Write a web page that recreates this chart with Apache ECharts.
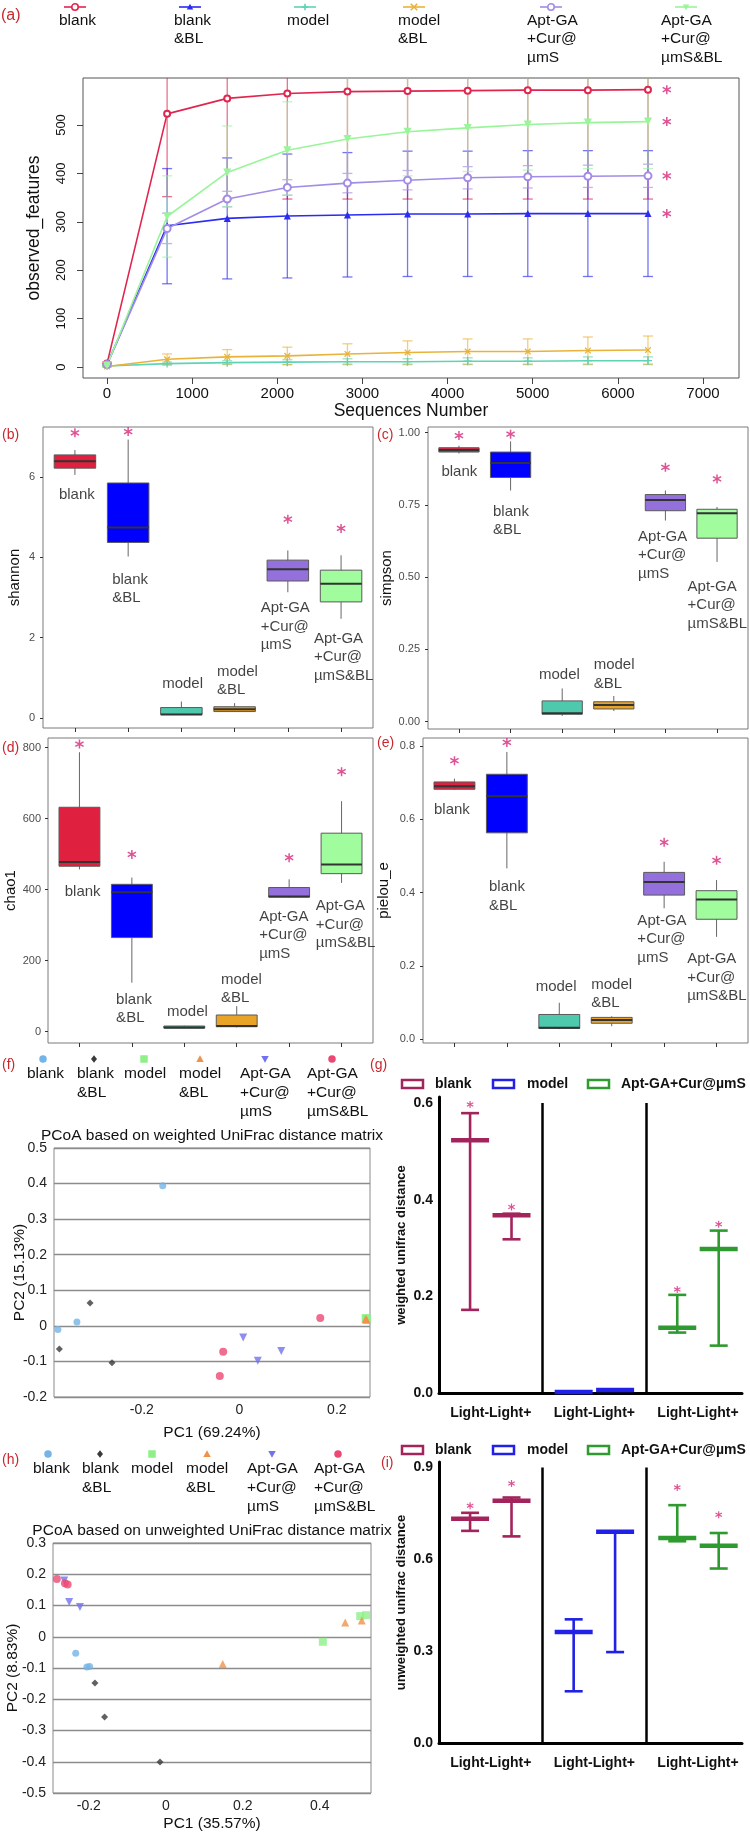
<!DOCTYPE html>
<html>
<head>
<meta charset="utf-8">
<title>diversity panels</title>
<script src="https://cdn.jsdelivr.net/npm/echarts@6.0.0/dist/echarts.min.js"></script>
<style>
  html, body { margin: 0; padding: 0; background: #fff; }
  #main { width: 750px; height: 1835px; }
</style>
</head>
<body>
<div id="main"></div>
<script>
// ---------------- data ----------------
var groupNames = ['blank', 'blank\n&BL', 'model', 'model\n&BL', 'Apt-GA\n+Cur@\nµmS', 'Apt-GA\n+Cur@\nµmS&BL'];

// (a) rarefaction curves, observed_features (mean, lower / upper error)
var seqDepth    = [0, 706, 1412, 2118, 2824, 3530, 4236, 4942, 5648, 6354];
var blankMean   = [7, 523, 555, 565, 569, 570, 571, 572, 572, 573];
var blankLow    = [4, 352, 347, 347, 347, 347, 347, 347, 347, 347];
var blankHigh   = [10, 694, 763, 783, 791, 793, 795, 797, 797, 799];
var blankBLMean = [5, 292, 307, 312, 314, 316, 316, 317, 317, 317];
var blankBLLow  = [3, 172, 182, 184, 186, 187, 187, 187, 187, 187];
var blankBLHigh = [7, 410, 432, 440, 443, 446, 446, 447, 447, 447];
var modelMean   = [2, 7, 9, 10, 11, 11, 12, 12, 13, 13];
var modelLow    = [1, 4, 5, 5, 5, 5, 5, 5, 5, 5];
var modelHigh   = [3, 10, 13, 15, 17, 17, 19, 19, 21, 21];
var modelBLMean = [1, 16, 21, 23, 27, 30, 32, 32, 34, 35];
var modelBLLow  = [0, 5, 6, 5, 6, 6, 6, 6, 6, 6];
var modelBLHigh = [2, 27, 36, 41, 48, 54, 58, 58, 62, 64];
var aptMean     = [5, 286, 347, 371, 380, 386, 391, 393, 394, 395];
var aptLow      = [3, 255, 331, 355, 360, 366, 368, 370, 371, 371];
var aptHigh     = [7, 318, 363, 387, 400, 406, 414, 416, 417, 419];
var aptBLMean   = [3, 311, 402, 448, 471, 486, 494, 501, 505, 507];
var aptBLLow    = [1, 227, 331, 355, 380, 395, 404, 407, 410, 410];
var aptBLHigh   = [5, 395, 498, 548, 600, 615, 620, 620, 620, 620];
var rareStars   = [573, 317, null, null, 395, 507];

// (b)-(e) box stats per group: [min, q1, median, q3, max]
var shannonBox = [[6.05, 6.22, 6.39, 6.55, 6.67], [4.02, 4.37, 4.74, 5.85, 6.93], [0.09, 0.09, 0.09, 0.26, 0.41],
                  [0.15, 0.16, 0.22, 0.28, 0.37], [3.13, 3.41, 3.70, 3.93, 4.17], [2.47, 2.89, 3.34, 3.68, 4.05]];
var shannonStars = [7.1, 7.13, null, null, 4.95, 4.72];
var simpsonBox = [[0.928, 0.933, 0.94, 0.948, 0.955], [0.80, 0.845, 0.895, 0.933, 0.97], [0.02, 0.026, 0.029, 0.072, 0.115],
                  [0.037, 0.044, 0.058, 0.069, 0.089], [0.696, 0.73, 0.767, 0.786, 0.80], [0.553, 0.635, 0.721, 0.735, 0.743]];
var simpsonStars = [0.99, 0.995, null, null, 0.88, 0.84];
var chao1Box = [[457, 466, 478, 632, 787], [138, 265, 393, 415, 434], [10, 10, 12, 16, 17],
                [12, 14, 16, 47, 72], [378, 379, 381, 406, 429], [419, 445, 471, 559, 649]];
var chao1Stars = [810, 499, null, null, 490, 732];
var pielouBox = [[0.68, 0.682, 0.69, 0.702, 0.711], [0.466, 0.563, 0.663, 0.723, 0.784], [0.027, 0.029, 0.031, 0.067, 0.099],
                 [0.035, 0.043, 0.052, 0.059, 0.062], [0.357, 0.393, 0.429, 0.455, 0.484], [0.279, 0.327, 0.381, 0.405, 0.434]];
var pielouStars = [0.76, 0.81, null, null, 0.537, 0.488];

// (f) PCoA weighted UniFrac, [PC1, PC2]
var wBlank   = [[-0.372, -0.01], [-0.333, 0.011], [-0.157, 0.394]];
var wBlankBL = [[-0.306, 0.064], [-0.369, -0.065], [-0.261, -0.104]];
var wModel   = [[0.26, 0.021], [0.262, 0.02], [0.259, 0.022]];
var wModelBL = [[0.26, 0.018], [0.261, 0.017], [0.259, 0.019]];
var wApt     = [[0.008, -0.033], [0.038, -0.098], [0.086, -0.071]];
var wAptBL   = [[0.166, 0.022], [-0.033, -0.073], [-0.04, -0.141]];

// (h) PCoA unweighted UniFrac, [PC1, PC2]
var uBlank   = [[-0.234, -0.053], [-0.205, -0.097], [-0.198, -0.095]];
var uBlankBL = [[-0.184, -0.148], [-0.159, -0.257], [-0.015, -0.401]];
var uModel   = [[0.408, -0.016], [0.505, 0.066], [0.52, 0.069]];
var uModelBL = [[0.148, -0.087], [0.466, 0.046], [0.509, 0.052]];
var uApt     = [[-0.264, 0.18], [-0.251, 0.111], [-0.223, 0.095]];
var uAptBL   = [[-0.283, 0.185], [-0.262, 0.171], [-0.255, 0.167]];

// (g) (i) UniFrac distance Light-/Light+ per group (blank, model, Apt-GA+Cur@µmS)
var pairGroups = ['blank', 'model', 'Apt-GA+Cur@µmS'];
var pairLabel = 'Light-Light+';
var weightedMean  = [0.523, 0.368, 0.002, 0.006, 0.135, 0.298];
var weightedLow   = [0.172, 0.318, 0.002, 0.006, 0.125, 0.098];
var weightedHigh  = [0.579, 0.371, 0.002, 0.006, 0.203, 0.336];
var weightedStars = [0.597, 0.385, null, null, 0.214, 0.349];
var unweightedMean  = [0.733, 0.791, 0.363, 0.69, 0.67, 0.644];
var unweightedLow   = [0.693, 0.675, 0.169, 0.297, 0.659, 0.57];
var unweightedHigh  = [0.752, 0.802, 0.404, 0.69, 0.777, 0.686];
var unweightedStars = [0.775, 0.848, null, null, 0.835, 0.746];

// ---------------- styling ----------------
var FONT = '"Liberation Sans", Arial, Helvetica, sans-serif';
var TAG = '#c8282d';
var STAR = '#d6287a';
var ASTERISK = 'path://M4.2,0H5.8V10H4.2Z M0.27,3.19L1.07,1.81L9.73,6.81L8.93,8.19Z M0.27,6.81L8.93,1.81L9.73,3.19L1.07,8.19Z';
var PLUS = 'path://M4.2,0H5.8V4.2H10V5.8H5.8V10H4.2V5.8H0V4.2H4.2Z';

var rareColors = ['#e0264e', '#2b2bf2', '#5fd3b5', '#e9b33a', '#a28ce6', '#98f598'];
var boxColors = ['#e0203f', '#0000ff', '#4fc9ad', '#e9a326', '#9370db', '#a0fc9c'];
var pcoaColors = ['#74b4e6', '#3a3a3a', '#8ff08a', '#f0924a', '#7272ee', '#ec4874'];
var pairColors = ['#a3245c', '#2020e6', '#2f9a2f'];

var chart = echarts.init(document.getElementById('main'));

var grids = [], xAxes = [], yAxes = [], series = [], graphics = [];
var labelGrids = [];

function addGrid(g) {
  grids.push(Object.assign({containLabel: false, outerBoundsMode: 'none'}, g));
  return grids.length - 1;
}

function addText(x, y, text, size, opts) {
  opts = opts || {};
  graphics.push({
    type: 'text', x: x, y: y, silent: true, rotation: opts.rotation || 0,
    style: {
      text: text, fill: opts.color || '#111',
      font: (opts.bold ? 'bold ' : '') + size + 'px ' + FONT,
      lineHeight: opts.lineHeight || Math.round(size * 1.2),
      align: opts.align || 'left', textAlign: opts.align || 'left',
      verticalAlign: opts.valign || 'top', textVerticalAlign: opts.valign || 'top'
    }
  });
}

function markShape(kind, x, y, s, color) {
  var h = s / 2;
  if (kind === 'circle') return {type: 'circle', shape: {cx: x, cy: y, r: h}, style: {fill: color}};
  if (kind === 'ring') return {type: 'circle', shape: {cx: x, cy: y, r: h}, style: {fill: '#fff', stroke: color, lineWidth: 1.6}};
  if (kind === 'square') return {type: 'rect', shape: {x: x - h, y: y - h, width: s, height: s}, style: {fill: color}};
  if (kind === 'diamond') return {type: 'polygon', shape: {points: [[x, y - h], [x + h * 0.8, y], [x, y + h], [x - h * 0.8, y]]}, style: {fill: color}};
  if (kind === 'tri') return {type: 'polygon', shape: {points: [[x, y - h], [x + h, y + h * 0.8], [x - h, y + h * 0.8]]}, style: {fill: color}};
  if (kind === 'tridown') return {type: 'polygon', shape: {points: [[x - h, y - h * 0.8], [x + h, y - h * 0.8], [x, y + h]]}, style: {fill: color}};
  if (kind === 'plus') return {type: 'group', children: [
    {type: 'line', shape: {x1: x - h, y1: y, x2: x + h, y2: y}, style: {stroke: color, lineWidth: 1.6}},
    {type: 'line', shape: {x1: x, y1: y - h, x2: x, y2: y + h}, style: {stroke: color, lineWidth: 1.6}}]};
  return {type: 'group', children: [
    {type: 'line', shape: {x1: x - h, y1: y - h, x2: x + h, y2: y + h}, style: {stroke: color, lineWidth: 1.6}},
    {type: 'line', shape: {x1: x - h, y1: y + h, x2: x + h, y2: y - h}, style: {stroke: color, lineWidth: 1.6}}]};
}

function f0(v) { return String(Math.round(v)); }
function f1(v) { return v.toFixed(1); }
function f2(v) { return v.toFixed(2); }
function fz(v) { return Math.abs(v) < 1e-9 ? '0' : v.toFixed(1); }

// ---------------- (a) rarefaction ----------------
var gA = addGrid({left: 83, top: 78, width: 656, height: 300, show: true, borderColor: '#555', borderWidth: 1});
xAxes.push({
  gridIndex: gA, type: 'value', min: -282, max: 7423,
  axisLine: {show: false, onZero: false}, splitLine: {show: false},
  axisTick: {show: true, length: 6, lineStyle: {color: '#444'}, customValues: [0, 1000, 2000, 3000, 4000, 5000, 6000, 7000]},
  axisLabel: {customValues: [0, 1000, 2000, 3000, 4000, 5000, 6000, 7000], formatter: f0, fontSize: 15, color: '#111', margin: 8},
  name: 'Sequences Number', nameLocation: 'middle', nameGap: 22, nameTextStyle: {fontSize: 17.5, color: '#111'}
});
yAxes.push({
  gridIndex: gA, type: 'value', min: -22.7, max: 597.1,
  axisLine: {show: false, onZero: false}, splitLine: {show: false},
  axisTick: {show: true, length: 6, lineStyle: {color: '#444'}, customValues: [0, 100, 200, 300, 400, 500]},
  axisLabel: {customValues: [0, 100, 200, 300, 400, 500], formatter: f0, rotate: 90, fontSize: 13, color: '#111', margin: 15},
  name: 'observed_features', nameLocation: 'middle', nameGap: 40, nameTextStyle: {fontSize: 17.5, color: '#111'}
});

var rareSets = [
  [blankMean, blankLow, blankHigh, 'emptyCircle', 6, 0],
  [blankBLMean, blankBLLow, blankBLHigh, 'triangle', 7, 0],
  [modelMean, modelLow, modelHigh, PLUS, 8, 0],
  [modelBLMean, modelBLLow, modelBLHigh, PLUS, 8, 45],
  [aptMean, aptLow, aptHigh, 'emptyCircle', 7, 0],
  [aptBLMean, aptBLLow, aptBLHigh, 'triangle', 8, 180]
];
rareSets.forEach(function (set, k) {
  var color = rareColors[k];
  series.push({
    type: 'custom', xAxisIndex: gA, yAxisIndex: gA, clip: true, silent: true, z: 1,
    data: seqDepth.map(function (x, i) { return [x, set[1][i], set[2][i]]; }),
    renderItem: function (params, api) {
      var lo = api.coord([api.value(0), api.value(1)]);
      var hi = api.coord([api.value(0), api.value(2)]);
      function st() { return {stroke: echarts.color.modifyAlpha(color, 0.65), lineWidth: 1.3}; }
      return {type: 'group', children: [
        {type: 'line', shape: {x1: lo[0], y1: lo[1], x2: hi[0], y2: hi[1]}, style: st()},
        {type: 'line', shape: {x1: lo[0] - 5, y1: lo[1], x2: lo[0] + 5, y2: lo[1]}, style: st()},
        {type: 'line', shape: {x1: hi[0] - 5, y1: hi[1], x2: hi[0] + 5, y2: hi[1]}, style: st()}
      ]};
    }
  });
  series.push({
    type: 'line', xAxisIndex: gA, yAxisIndex: gA, z: 3, silent: true,
    data: seqDepth.map(function (x, i) { return [x, set[0][i]]; }),
    symbol: set[3], symbolSize: set[4], symbolRotate: set[5], showAllSymbol: true,
    lineStyle: {color: color, width: 1.6}, itemStyle: {color: color, borderWidth: 1.4}
  });
});
series.push({
  type: 'scatter', xAxisIndex: gA, yAxisIndex: gA, symbol: ASTERISK, symbolSize: 9, silent: true,
  itemStyle: {color: STAR},
  data: rareStars.filter(function (v) { return v !== null; }).map(function (v) { return [6575, v]; })
});

// legend (a)
var rareMarks = ['ring', 'tri', 'plus', 'cross', 'ring', 'tridown'];
var aMarkX = [75, 190, 305, 414, 551, 686];
var aTextX = [59, 174, 287, 398, 527, 661];
rareMarks.forEach(function (kind, k) {
  graphics.push({type: 'line', silent: true, shape: {x1: aMarkX[k] - 11, y1: 7, x2: aMarkX[k] + 11, y2: 7}, style: {stroke: rareColors[k], lineWidth: 1.6}});
  graphics.push(markShape(kind, aMarkX[k], 7, 6.5, rareColors[k]));
  addText(aTextX[k], 11, groupNames[k], 15.5, {lineHeight: 18.5});
});

// ---------------- (b)-(e) box plots ----------------
function boxPanel(rect, stats, stars, yMin, yMax, yTicks, fmt, yName, nameGap, margin, notes) {
  var gi = addGrid(Object.assign({show: true, borderColor: '#7a7a7a', borderWidth: 1}, rect));
  xAxes.push({
    gridIndex: gi, type: 'value', min: -0.6, max: 5.6,
    axisLine: {show: false, onZero: false}, splitLine: {show: false},
    axisTick: {show: true, length: 4, lineStyle: {color: '#333'}, customValues: [0, 1, 2, 3, 4, 5]},
    axisLabel: {show: false}
  });
  yAxes.push({
    gridIndex: gi, type: 'value', min: yMin, max: yMax,
    axisLine: {show: false, onZero: false}, splitLine: {show: false},
    axisTick: {show: true, length: 3, lineStyle: {color: '#333'}, customValues: yTicks},
    axisLabel: {customValues: yTicks, fontSize: 11, color: '#4d4d4d', margin: margin, formatter: fmt},
    name: yName, nameLocation: 'middle', nameGap: nameGap, nameTextStyle: {fontSize: 15, color: '#111'}
  });
  series.push({
    type: 'custom', xAxisIndex: gi, yAxisIndex: gi, silent: true, z: 2,
    data: stats.map(function (s, i) { return [i, s[0], s[1], s[2], s[3], s[4]]; }),
    encode: {x: 0, y: [1, 2, 3, 4, 5]},
    renderItem: function (params, api) {
      var i = api.value(0);
      var lo = api.coord([i, api.value(1)]), q1 = api.coord([i, api.value(2)]), md = api.coord([i, api.value(3)]);
      var q3 = api.coord([i, api.value(4)]), hi = api.coord([i, api.value(5)]);
      var half = api.size([0.78, 0])[0] / 2;
      return {type: 'group', children: [
        {type: 'line', shape: {x1: lo[0], y1: lo[1], x2: hi[0], y2: hi[1]}, style: {stroke: '#666', lineWidth: 1}},
        {type: 'rect', shape: {x: q3[0] - half, y: q3[1], width: half * 2, height: Math.max(q1[1] - q3[1], 1)},
         style: {fill: boxColors[i], stroke: '#5a5a5a', lineWidth: 1}},
        {type: 'line', shape: {x1: md[0] - half, y1: md[1], x2: md[0] + half, y2: md[1]}, style: {stroke: '#333', lineWidth: 2}}
      ]};
    }
  });
  series.push({
    type: 'scatter', xAxisIndex: gi, yAxisIndex: gi, symbol: ASTERISK, symbolSize: 9, silent: true,
    itemStyle: {color: STAR},
    data: stars.map(function (v, i) { return v === null ? null : [i, v]; }).filter(function (d) { return d; })
  });
  series.push({
    type: 'scatter', xAxisIndex: gi, yAxisIndex: gi, symbolSize: 1, silent: true,
    itemStyle: {color: 'rgba(0,0,0,0)'},
    label: {show: true, position: 'right', distance: 0, formatter: '{b}', fontSize: 15, lineHeight: 18.5, color: '#111', align: 'left'},
    data: notes.map(function (p, i) { return {name: groupNames[i], value: p}; })
  });
}

boxPanel({left: 43, top: 427, width: 330, height: 301}, shannonBox, shannonStars, -0.249, 7.244, [0, 2, 4, 6], f0,
  'shannon', 21, 8,
  [[-0.31, 5.55], [0.69, 3.21], [1.63, 0.85], [2.66, 0.92], [3.48, 2.27], [4.48, 1.52]]);
boxPanel({left: 428, top: 427, width: 320, height: 302}, simpsonBox, simpsonStars, -0.0253, 1.0197, [0, 0.25, 0.5, 0.75, 1], f2,
  'simpson', 30, 8,
  [[-0.35, 0.865], [0.65, 0.695], [1.54, 0.162], [2.6, 0.163], [3.46, 0.577], [4.42, 0.404]]);
boxPanel({left: 48, top: 738, width: 325, height: 305}, chao1Box, chao1Stars, -31.8, 827, [0, 200, 400, 600, 800], f0,
  'chao1', 25, 7,
  [[-0.29, 395], [0.69, 64], [1.66, 56], [2.69, 120], [3.42, 272], [4.5, 302]]);
boxPanel({left: 423, top: 738, width: 325, height: 305}, pielouBox, pielouStars, -0.0109, 0.822, [0, 0.2, 0.4, 0.6, 0.8], f1,
  'pielou_e', 32, 8,
  [[-0.4, 0.625], [0.65, 0.39], [1.54, 0.143], [2.6, 0.123], [3.48, 0.273], [4.43, 0.167]]);

// ---------------- (f) (h) PCoA ----------------
var pcoaSymbols = [['circle', 7, 0], ['diamond', 7, 0], ['rect', 8, 0], ['triangle', 8, 0], ['triangle', 8, 180], ['circle', 8, 0]];
var pcoaMarks = ['circle', 'diamond', 'square', 'tri', 'tridown', 'circle'];

function pcoaPanel(rect, sets, xMin, xMax, xLabels, yMin, yMax, xName, yName, xGap, yGap, title, titleY, legY, legMarkX, legTextX) {
  var gi = addGrid(Object.assign({show: true, borderColor: '#8a8a8a', borderWidth: 1}, rect));
  xAxes.push({
    gridIndex: gi, type: 'value', min: xMin, max: xMax,
    axisLine: {show: false, onZero: false}, axisTick: {show: false}, splitLine: {show: false},
    axisLabel: {customValues: xLabels, fontSize: 14, color: '#222', margin: 6, formatter: fz},
    name: xName, nameLocation: 'middle', nameGap: xGap, nameTextStyle: {fontSize: 15.5, color: '#111'}
  });
  yAxes.push({
    gridIndex: gi, type: 'value', min: yMin, max: yMax, interval: 0.1,
    axisLine: {show: false, onZero: false}, axisTick: {show: false}, axisLabel: {show: false},
    splitLine: {show: true, lineStyle: {color: '#8c8c8c', width: 1.3}},
    name: yName, nameLocation: 'middle', nameGap: yGap, nameTextStyle: {fontSize: 15.5, color: '#111'}
  });
  // tick labels live on a twin axis one step taller, whose own top label is switched off
  var step = rect.height / ((yMax - yMin) / 0.1);
  labelGrids.push({
    rect: {left: rect.left, top: rect.top - step, width: rect.width, height: rect.height + step},
    min: yMin, max: yMax + 0.1
  });
  sets.forEach(function (pts, k) {
    series.push({
      type: 'scatter', xAxisIndex: gi, yAxisIndex: gi, silent: true, z: 3,
      symbol: pcoaSymbols[k][0], symbolSize: pcoaSymbols[k][1], symbolRotate: pcoaSymbols[k][2],
      itemStyle: {color: pcoaColors[k]}, data: pts
    });
  });
  addText(rect.left + rect.width / 2, titleY, title, 15.5, {align: 'center', valign: 'middle'});
  pcoaMarks.forEach(function (kind, k) {
    graphics.push(markShape(kind, legMarkX[k], legY, 7.5, pcoaColors[k]));
    addText(legTextX[k], legY + 5.5, groupNames[k], 15.5, {lineHeight: 18.8});
  });
}

pcoaPanel({left: 54, top: 1148, width: 316, height: 249},
  [wBlank, wBlankBL, wModel, wModelBL, wApt, wAptBL], -0.38, 0.268, [-0.2, 0, 0.2],
  -0.2, 0.5,
  'PC1 (69.24%)', 'PC2 (15.13%)', 28, 26,
  'PCoA based on weighted UniFrac distance matrix', 1136, 1059,
  [43, 94, 144, 200, 265, 332], [27, 77, 124, 179, 240, 307]);
pcoaPanel({left: 53, top: 1543, width: 318, height: 250},
  [uBlank, uBlankBL, uModel, uModelBL, uApt, uAptBL], -0.293, 0.533, [-0.2, 0, 0.2, 0.4],
  -0.5, 0.3,
  'PC1 (35.57%)', 'PC2 (8.83%)', 23, 32,
  'PCoA based on unweighted UniFrac distance matrix', 1531, 1454,
  [48, 100, 152, 207, 272, 338], [33, 82, 131, 186, 247, 314]);

// ---------------- (g) (i) distance comparisons ----------------
function pairPanel(rect, yMax, yTicks, yName, mean, low, high, stars, legY) {
  var gi = addGrid(Object.assign({show: false}, rect));
  var sepTop = yTicks[yTicks.length - 1];
  xAxes.push({
    gridIndex: gi, type: 'value', min: 0, max: 5.85,
    axisLine: {show: true, onZero: false, lineStyle: {color: '#000', width: 3}},
    axisTick: {show: false}, splitLine: {show: false},
    axisLabel: {customValues: [1, 3, 5], formatter: function () { return pairLabel; },
      fontSize: 14, fontWeight: 'bold', color: '#111', margin: 13}
  });
  yAxes.push({
    gridIndex: gi, type: 'value', min: 0, max: yMax,
    axisLine: {show: true, onZero: false, lineStyle: {color: '#000', width: 3}},
    axisTick: {show: false}, splitLine: {show: false},
    axisLabel: {customValues: yTicks, formatter: f1, fontSize: 14, fontWeight: 'bold', color: '#111', margin: 6},
    name: yName, nameLocation: 'middle', nameGap: 31, nameTextStyle: {fontSize: 13, fontWeight: 'bold', color: '#111'}
  });
  series.push({
    type: 'custom', xAxisIndex: gi, yAxisIndex: gi, silent: true, z: 3,
    data: mean.map(function (m, i) {
      var g = Math.floor(i / 2);
      return [g * 2 + (i % 2 ? 1.4 : 0.6), m, low[i], high[i], g];
    }),
    renderItem: function (params, api) {
      var x = api.value(0), c = pairColors[api.value(4)];
      var m = api.coord([x, api.value(1)]), lo = api.coord([x, api.value(2)]), hi = api.coord([x, api.value(3)]);
      return {type: 'group', children: [
        {type: 'line', shape: {x1: lo[0], y1: lo[1], x2: hi[0], y2: hi[1]}, style: {stroke: c, lineWidth: 2.6}},
        {type: 'line', shape: {x1: lo[0] - 9, y1: lo[1], x2: lo[0] + 9, y2: lo[1]}, style: {stroke: c, lineWidth: 2.6}},
        {type: 'line', shape: {x1: hi[0] - 9, y1: hi[1], x2: hi[0] + 9, y2: hi[1]}, style: {stroke: c, lineWidth: 2.6}},
        {type: 'line', shape: {x1: m[0] - 19, y1: m[1], x2: m[0] + 19, y2: m[1]}, style: {stroke: c, lineWidth: 4.5}}
      ]};
    },
    markLine: {
      silent: true, symbol: 'none', label: {show: false},
      lineStyle: {color: '#000', width: 2.5, type: 'solid'},
      data: [[{coord: [2, 0]}, {coord: [2, sepTop]}], [{coord: [4, 0]}, {coord: [4, sepTop]}]]
    }
  });
  series.push({
    type: 'scatter', xAxisIndex: gi, yAxisIndex: gi, symbol: ASTERISK, symbolSize: 7, silent: true, z: 4,
    itemStyle: {color: STAR},
    data: stars.map(function (v, i) {
      return v === null ? null : [Math.floor(i / 2) * 2 + (i % 2 ? 1.4 : 0.6), v];
    }).filter(function (d) { return d; })
  });
  var iconX = [402, 493, 588], textX = [435, 527, 621];
  pairGroups.forEach(function (name, k) {
    graphics.push({type: 'rect', silent: true, shape: {x: iconX[k], y: legY - 4, width: 21, height: 8},
      style: {fill: 'none', stroke: pairColors[k], lineWidth: 2.5}});
    addText(textX[k], legY, name, 14, {bold: true, valign: 'middle'});
  });
}

pairPanel({left: 439, top: 1097, width: 303, height: 296}, 0.6124, [0, 0.2, 0.4, 0.6], 'weighted unifrac distance',
  weightedMean, weightedLow, weightedHigh, weightedStars, 1084);
pairPanel({left: 439, top: 1462, width: 303, height: 281}, 0.918, [0, 0.3, 0.6, 0.9], 'unweighted unifrac distance',
  unweightedMean, unweightedLow, unweightedHigh, unweightedStars, 1450);

// ---------------- PCoA tick-label grids (no marks, labels only) ----------------
labelGrids.forEach(function (lg) {
  var gi = addGrid(Object.assign({show: false}, lg.rect));
  xAxes.push({gridIndex: gi, type: 'value', min: 0, max: 1, show: false});
  yAxes.push({
    gridIndex: gi, type: 'value', min: lg.min, max: lg.max, interval: 0.1,
    axisLine: {show: false, onZero: false}, axisTick: {show: false}, splitLine: {show: false},
    axisLabel: {fontSize: 14, color: '#222', margin: 7, formatter: fz, showMinLabel: true, showMaxLabel: false}
  });
});

// ---------------- panel tags ----------------
[['(a)', 1, 16, 16], ['(b)', 2, 435, 14], ['(c)', 377, 435, 14], ['(d)', 2, 748, 14], ['(e)', 377, 743, 14],
 ['(f)', 2, 1065, 14], ['(g)', 370, 1065, 14], ['(h)', 2, 1460, 14], ['(i)', 381, 1463, 14]].forEach(function (t) {
  addText(t[1], t[2], t[0], t[3], {color: TAG, valign: 'middle'});
});

chart.setOption({
  animation: false,
  backgroundColor: '#fff',
  textStyle: {fontFamily: FONT},
  grid: grids,
  xAxis: xAxes,
  yAxis: yAxes,
  series: series,
  graphic: {elements: graphics}
});
</script>
</body>
</html>
